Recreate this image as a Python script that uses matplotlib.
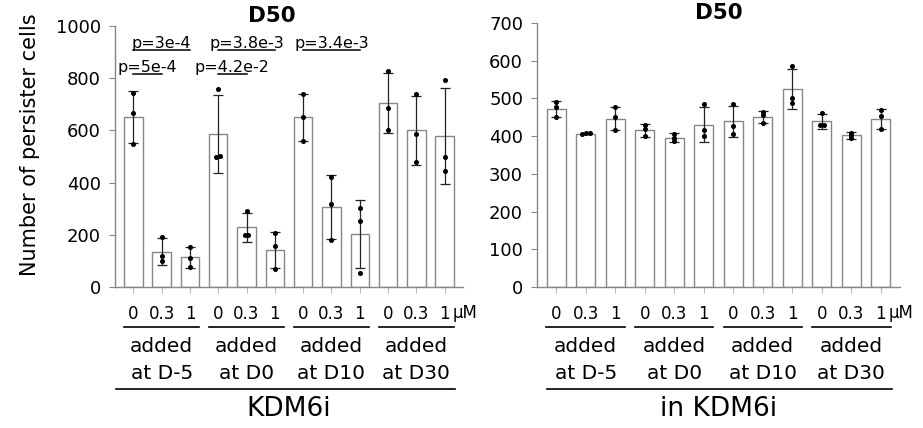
import numpy as np
import matplotlib
matplotlib.use("Agg")
from matplotlib import pyplot as plt
from matplotlib import transforms

# doses repeated for each of the 4 groups
doses = ["0", "0.3", "1"] * 4
groups = ["added\nat D-5", "added\nat D0", "added\nat D10", "added\nat D30"]

# left panel: KDM6i (bar = mean, err = SD, dots = replicates)
left_mean = [651, 136, 114, 586, 229, 143, 650, 306, 203, 705, 600, 578]
left_sd = [100, 50, 40, 149, 55, 69, 90, 124, 131, 116, 131, 185]
left_pts = [[743, 667, 548], [193, 119, 100], [154, 113, 75],
            [757, 499, 503], [291, 198, 198], [206, 157, 68],
            [741, 653, 560], [423, 318, 180], [301, 254, 55],
            [828, 684, 601], [738, 585, 480], [792, 499, 446]]

# right panel: in KDM6i
right_mean = [473, 407, 446, 416, 396, 430, 439, 451, 525, 439, 402, 445]
right_sd = [21, 2, 31, 17, 11.5, 46, 40, 15.5, 52.5, 19.5, 8.5, 26]
right_pts = [[490, 477, 451], [409, 407, 408], [477, 452, 415],
             [430, 418, 400], [405, 394, 386], [484, 415, 400],
             [486, 427, 407], [464, 455, 435], [587, 501, 489],
             [461, 430, 430], [408, 402, 396], [468, 454, 418]]

# significance brackets on the left panel: (bar a, bar b, level, label)
pvals = [(0, 2, 908, "p=3e-4"), (0, 1, 816, "p=5e-4"),
         (3, 5, 908, "p=3.8e-3"), (3, 4, 816, "p=4.2e-2"),
         (6, 8, 908, "p=3.4e-3")]

GRAY = "#878787"


def spread(vals, thr):
    # put near-equal replicate dots side by side
    vals = np.asarray(vals, float)
    order = np.argsort(vals)
    offs = np.zeros(len(vals))
    clusters = [[order[0]]]
    for k in order[1:]:
        if vals[k] - vals[clusters[-1][-1]] < thr:
            clusters[-1].append(k)
        else:
            clusters.append([k])
    for c in clusters:
        n = len(c)
        for j, k in enumerate(c):
            offs[k] = (j - (n - 1) / 2) * 0.13
    return offs


def panel(ax, mean, sd, pts, ymax, ystep, thr, title, title_x, xlabel, long_from):
    x = np.arange(len(mean))
    ax.bar(x, mean, width=0.65, color="white", edgecolor=GRAY, linewidth=1.0, zorder=2)
    ax.errorbar(x, mean, yerr=sd, fmt="none", ecolor="#222222", elinewidth=0.9,
                capsize=3.3, capthick=0.9, zorder=3)
    for i, p in enumerate(pts):
        ax.plot(x[i] + spread(p, thr), p, "o", color="black", ms=2.6, zorder=4)

    ax.set_xlim(-0.65, 11.65)
    ax.set_ylim(0, ymax)
    ax.set_yticks(np.arange(0, ymax + 1, ystep))
    ax.set_xticks(x)
    ax.set_xticklabels(doses, fontsize=12)
    ax.tick_params(axis="x", length=4, color="#bbbbbb", pad=9)
    ax.tick_params(axis="y", length=4, color=GRAY, labelsize=13, pad=6)
    for s in ["top", "right"]:
        ax.spines[s].set_visible(False)
    for s in ["left", "bottom"]:
        ax.spines[s].set_color(GRAY)
        ax.spines[s].set_linewidth(1.0)
    ax.set_title(title, fontsize=15.5, fontweight="bold", x=title_x, pad=3)

    tr = transforms.blended_transform_factory(ax.transData, ax.transAxes)
    h = ax.get_position().height * 428
    fy = lambda py: -(py - 287) / h

    ax.text(11.28, fy(313), "μM", transform=tr, fontsize=12, ha="left", va="center")
    for g, name in enumerate(groups):
        c = 3 * g + 1
        ax.plot([c - 1.33, c + 1.33], [fy(327)] * 2, color="black", lw=1.2,
                transform=tr, clip_on=False)
        ax.text(c, fy(360), name, transform=tr, fontsize=14.5, ha="center",
                va="center", linespacing=1.5)
    ax.plot([long_from, 11.37], [fy(389)] * 2, color="black", lw=1.2,
            transform=tr, clip_on=False)
    ax.text(5.5, fy(409), xlabel, transform=tr, fontsize=19, ha="center", va="center")


fig = plt.figure(figsize=(9.23, 4.28), dpi=100)
axL = fig.add_axes([115 / 923, 141 / 428, 348 / 923, 261 / 428])
axR = fig.add_axes([537 / 923, 141 / 428, 363 / 923, 264 / 428])

panel(axL, left_mean, left_sd, left_pts, 1000, 200, 12, "D50", 0.45, "KDM6i", -0.6)
panel(axR, right_mean, right_sd, right_pts, 700, 100, 5, "D50", 0.5, "in KDM6i", -0.3)

axL.set_ylabel("Number of persister cells", fontsize=15)
axL.yaxis.set_label_coords(-0.215, 0.544)

for a, b, lev, lab in pvals:
    axL.plot([a, b], [lev, lev], color="black", lw=1.1, clip_on=False)
    axL.text((a + b) / 2, lev + 8, lab, fontsize=11.5, ha="center", va="baseline")

fig.savefig("out.png", dpi=100)
